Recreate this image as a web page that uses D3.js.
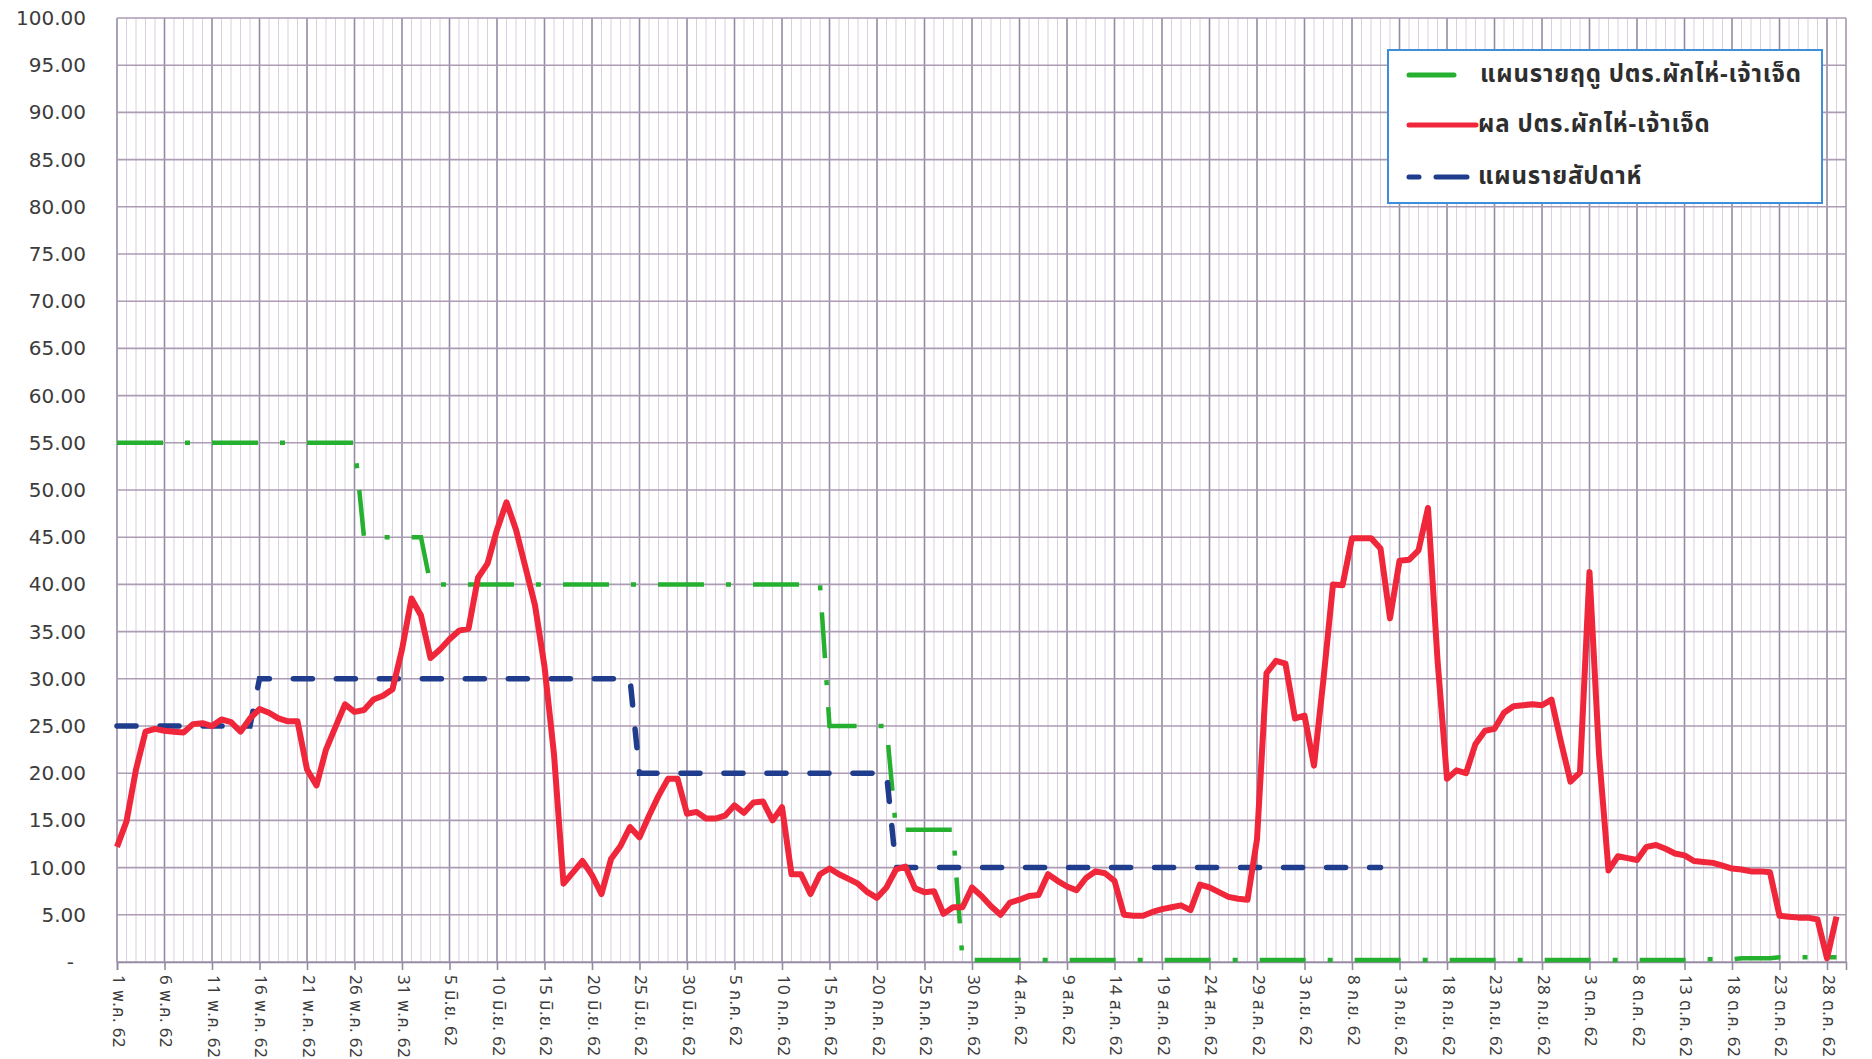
<!DOCTYPE html>
<html>
<head>
<meta charset="utf-8">
<script src="https://cdn.jsdelivr.net/npm/d3@7"></script>
<style>
  body { margin: 0; background: #fff; }
  svg { display: block; }
</style>
</head>
<body>
<div id="chart"></div>
<script>
// categories: one per day, 1 May 2019 (พ.ค.62) to 30 Oct 2019 (ต.ค.62)
const days = d3.timeDay.range(new Date(2019, 4, 1), new Date(2019, 9, 31));

// labels shown on every 5th day
const xTickLabels = [
  "1 พ.ค. 62", "6 พ.ค. 62", "11 พ.ค. 62", "16 พ.ค. 62", "21 พ.ค. 62", "26 พ.ค. 62", "31 พ.ค. 62",
  "5 มิ.ย. 62", "10 มิ.ย. 62", "15 มิ.ย. 62", "20 มิ.ย. 62", "25 มิ.ย. 62", "30 มิ.ย. 62",
  "5 ก.ค. 62", "10 ก.ค. 62", "15 ก.ค. 62", "20 ก.ค. 62", "25 ก.ค. 62", "30 ก.ค. 62",
  "4 ส.ค. 62", "9 ส.ค. 62", "14 ส.ค. 62", "19 ส.ค. 62", "24 ส.ค. 62", "29 ส.ค. 62",
  "3 ก.ย. 62", "8 ก.ย. 62", "13 ก.ย. 62", "18 ก.ย. 62", "23 ก.ย. 62", "28 ก.ย. 62",
  "3 ต.ค. 62", "8 ต.ค. 62", "13 ต.ค. 62", "18 ต.ค. 62", "23 ต.ค. 62", "28 ต.ค. 62"
];

const yTicks = [0, 5, 10, 15, 20, 25, 30, 35, 40, 45, 50, 55, 60, 65, 70, 75, 80, 85, 90, 95, 100];

// แผนรายฤดู (seasonal plan)
const seasonPlan = [
  55, 55, 55, 55, 55, 55, 55, 55, 55, 55,
  55, 55, 55, 55, 55, 55, 55, 55, 55, 55,
  55, 55, 55, 55, 55, 55, 45, 45, 45, 45,
  45, 45, 45, 40, 40, 40, 40, 40, 40, 40,
  40, 40, 40, 40, 40, 40, 40, 40, 40, 40,
  40, 40, 40, 40, 40, 40, 40, 40, 40, 40,
  40, 40, 40, 40, 40, 40, 40, 40, 40, 40,
  40, 40, 40, 40, 40, 25, 25, 25, 25, 25,
  25, 25, 14, 14, 14, 14, 14, 14, 14, 0.2,
  0.2, 0.2, 0.2, 0.2, 0.2, 0.2, 0.2, 0.2, 0.2, 0.2,
  0.2, 0.2, 0.2, 0.2, 0.2, 0.2, 0.2, 0.2, 0.2, 0.2,
  0.2, 0.2, 0.2, 0.2, 0.2, 0.2, 0.2, 0.2, 0.2, 0.2,
  0.2, 0.2, 0.2, 0.2, 0.2, 0.2, 0.2, 0.2, 0.2, 0.2,
  0.2, 0.2, 0.2, 0.2, 0.2, 0.2, 0.2, 0.2, 0.2, 0.2,
  0.2, 0.2, 0.2, 0.2, 0.2, 0.2, 0.2, 0.2, 0.2, 0.2,
  0.2, 0.2, 0.2, 0.2, 0.2, 0.2, 0.2, 0.2, 0.2, 0.2,
  0.2, 0.2, 0.2, 0.2, 0.2, 0.2, 0.2, 0.3, 0.3, 0.3,
  0.3, 0.4, 0.4, 0.4, 0.4, 0.5, 0.5, 0.5, 0.5, 0.5,
  0.5, 0.5
];

// ผล (actual)
const actual = [
  12.2, 14.9, 20.4, 24.4, 24.7, 24.5, 24.4, 24.3, 25.2, 25.3,
  25.0, 25.7, 25.4, 24.4, 25.8, 26.8, 26.4, 25.8, 25.5, 25.5,
  20.4, 18.7, 22.5, 24.9, 27.3, 26.5, 26.7, 27.8, 28.2, 28.9,
  33.1, 38.5, 36.7, 32.2, 33.1, 34.2, 35.1, 35.3, 40.7, 42.2,
  45.8, 48.7, 45.8, 41.8, 37.8, 31.3, 22.0, 8.3, 9.5, 10.7,
  9.2, 7.2, 10.9, 12.3, 14.3, 13.2, 15.5, 17.6, 19.4, 19.4,
  15.7, 15.9, 15.2, 15.2, 15.5, 16.6, 15.8, 16.9, 17.0, 15.0,
  16.4, 9.3, 9.3, 7.2, 9.3, 9.9, 9.3, 8.8, 8.3, 7.4,
  6.8, 7.9, 9.8, 10.1, 7.8, 7.4, 7.5, 5.1, 5.8, 5.8,
  7.9, 7.0, 5.9, 5.0, 6.3, 6.6, 7.0, 7.1, 9.3, 8.6,
  8.0, 7.6, 8.9, 9.6, 9.4, 8.6, 5.0, 4.9, 4.9, 5.3,
  5.6, 5.8, 6.0, 5.5, 8.2, 7.9, 7.4, 6.9, 6.7, 6.6,
  13.0, 30.6, 31.9, 31.6, 25.8, 26.1, 20.8, 30.0, 40.0, 39.9,
  44.9, 44.9, 44.9, 43.8, 36.4, 42.5, 42.6, 43.6, 48.1, 32.0,
  19.4, 20.3, 20.0, 23.1, 24.5, 24.7, 26.4, 27.1, 27.2, 27.3,
  27.2, 27.8, 23.3, 19.1, 20.1, 41.3, 22.0, 9.7, 11.2, 11.0,
  10.8, 12.2, 12.4, 12.0, 11.5, 11.3, 10.7, 10.6, 10.5, 10.2,
  9.9, 9.8, 9.6, 9.6, 9.5, 4.9, 4.8, 4.7, 4.7, 4.5,
  0.4, 4.8
];

// แผนรายสัปดาห์ (weekly plan)
const weeklyPlan = [
  25, 25, 25, 25, 25, 25, 25, 25, 25, 25,
  25, 25, 25, 25, 25, 30, 30, 30, 30, 30,
  30, 30, 30, 30, 30, 30, 30, 30, 30, 30,
  30, 30, 30, 30, 30, 30, 30, 30, 30, 30,
  30, 30, 30, 30, 30, 30, 30, 30, 30, 30,
  30, 30, 30, 30, 30, 20, 20, 20, 20, 20,
  20, 20, 20, 20, 20, 20, 20, 20, 20, 20,
  20, 20, 20, 20, 20, 20, 20, 20, 20, 20,
  20, 20, 10, 10, 10, 10, 10, 10, 10, 10,
  10, 10, 10, 10, 10, 10, 10, 10, 10, 10,
  10, 10, 10, 10, 10, 10, 10, 10, 10, 10,
  10, 10, 10, 10, 10, 10, 10, 10, 10, 10,
  10, 10, 10, 10, 10, 10, 10, 10, 10, 10,
  10, 10, 10, 10
];

const seriesNames = ["แผนรายฤดู ปตร.ผักไห่-เจ้าเจ็ด", "ผล ปตร.ผักไห่-เจ้าเจ็ด", "แผนรายสัปดาห์"];

const width = 1872;
const height = 1059;
const margin = { top: 18, right: 26, bottom: 97, left: 117 };
const thaiFont = "Tahoma, 'Noto Sans Thai', 'Leelawadee UI', 'DejaVu Sans', sans-serif";

const svg = d3.select("#chart")
  .append("svg")
  .attr("width", width)
  .attr("height", height);

svg.append("rect").attr("width", width).attr("height", height).attr("fill", "#fff");

const x = d3.scalePoint()
  .domain(d3.range(days.length))
  .range([margin.left, width - margin.right]);

const y = d3.scaleLinear()
  .domain([0, 100])
  .range([height - margin.bottom, margin.top]);

const tickIdx = xTickLabels.map((_, k) => k * 5);

// vertical grid, one per day (darker every 5th day)
svg.append("g")
  .selectAll("line")
  .data(d3.range(days.length))
  .join("line")
  .attr("x1", d => x(d)).attr("x2", d => x(d))
  .attr("y1", y(100)).attr("y2", y(0))
  .attr("stroke", d => d % 5 === 0 ? "#958aa3" : "#dad0de")
  .attr("stroke-width", d => d % 5 === 0 ? 1.6 : 1);

// horizontal grid
svg.append("g")
  .selectAll("line")
  .data(yTicks)
  .join("line")
  .attr("x1", margin.left).attr("x2", width - margin.right)
  .attr("y1", d => y(d)).attr("y2", d => y(d))
  .attr("stroke", "#ab9bb3")
  .attr("stroke-width", 1.6);

// right border
svg.append("line")
  .attr("x1", width - margin.right).attr("x2", width - margin.right)
  .attr("y1", y(100)).attr("y2", y(0))
  .attr("stroke", "#ab9bb3").attr("stroke-width", 1.6);

// y axis labels
const yAxis = svg.append("g")
  .attr("transform", `translate(${margin.left - 31},0)`)
  .call(d3.axisLeft(y).tickValues(yTicks).tickSize(0).tickPadding(0)
    .tickFormat(d => d === 0 ? "-" : d3.format(".2f")(d)));
yAxis.select(".domain").remove();
yAxis.selectAll("text")
  .attr("font-family", "'DejaVu Sans', Verdana, sans-serif")
  .attr("font-size", 20)
  .attr("fill", "#3c3c3c")
  .attr("dx", d => d === 0 ? -12 : 0);

// x axis
const xAxis = svg.append("g")
  .attr("transform", `translate(0,${y(0)})`)
  .call(d3.axisBottom(x).tickValues(tickIdx).tickSize(8).tickPadding(0)
    .tickFormat((d, k) => xTickLabels[k]));
xAxis.select(".domain").attr("stroke", "#958aa3").attr("stroke-width", 1.6);
xAxis.selectAll(".tick line").attr("stroke", "#958aa3").attr("stroke-width", 1.6);
xAxis.selectAll("text")
  .attr("font-family", thaiFont)
  .attr("font-size", 17)
  .attr("letter-spacing", 0.4)
  .attr("fill", "#3c3c3c")
  .attr("text-anchor", "start")
  .attr("dominant-baseline", "middle")
  .attr("transform", "translate(0,13) rotate(90)")
  .attr("x", 0).attr("y", 0).attr("dy", 0);

// lines
const lineOf = d3.line()
  .defined(d => d != null)
  .x((d, i) => x(i))
  .y(d => y(d));

svg.append("path")
  .datum(seasonPlan)
  .attr("fill", "none")
  .attr("stroke", "#25b030")
  .attr("stroke-width", 4.5)
  .attr("stroke-dasharray", "46,22,5,22")
  .attr("d", lineOf);

svg.append("path")
  .datum(weeklyPlan)
  .attr("fill", "none")
  .attr("stroke", "#203c8c")
  .attr("stroke-width", 5.5)
  .attr("stroke-linecap", "round")
  .attr("stroke-dasharray", "19,24")
  .attr("d", lineOf);

svg.append("path")
  .datum(actual)
  .attr("fill", "none")
  .attr("stroke", "#f0263a")
  .attr("stroke-width", 6)
  .attr("stroke-linejoin", "round")
  .attr("d", lineOf);

// legend
const legend = svg.append("g").attr("transform", "translate(1388,50)");
legend.append("rect")
  .attr("width", 434).attr("height", 153)
  .attr("fill", "#fff")
  .attr("stroke", "#3d8fdc")
  .attr("stroke-width", 2);

const legendRows = [
  { name: seriesNames[0], color: "#25b030", y: 25, x2: 66, tx: 92, dash: null },
  { name: seriesNames[1], color: "#f0263a", y: 75, x2: 88, tx: 90, dash: null },
  { name: seriesNames[2], color: "#203c8c", y: 127, x2: 84, tx: 90, dash: "10,17,31,100" }
];

legendRows.forEach(r => {
  legend.append("line")
    .attr("x1", 21).attr("x2", r.x2)
    .attr("y1", r.y).attr("y2", r.y)
    .attr("stroke", r.color)
    .attr("stroke-width", 5)
    .attr("stroke-linecap", "round")
    .attr("stroke-dasharray", r.dash);
  legend.append("text")
    .attr("x", r.tx).attr("y", r.y)
    .attr("dominant-baseline", "middle")
    .attr("font-family", thaiFont)
    .attr("font-size", 24)
    .attr("font-weight", "bold")
    .attr("letter-spacing", 0.8)
    .attr("fill", "#2e2e2e")
    .text(r.name);
});
</script>
</body>
</html>
